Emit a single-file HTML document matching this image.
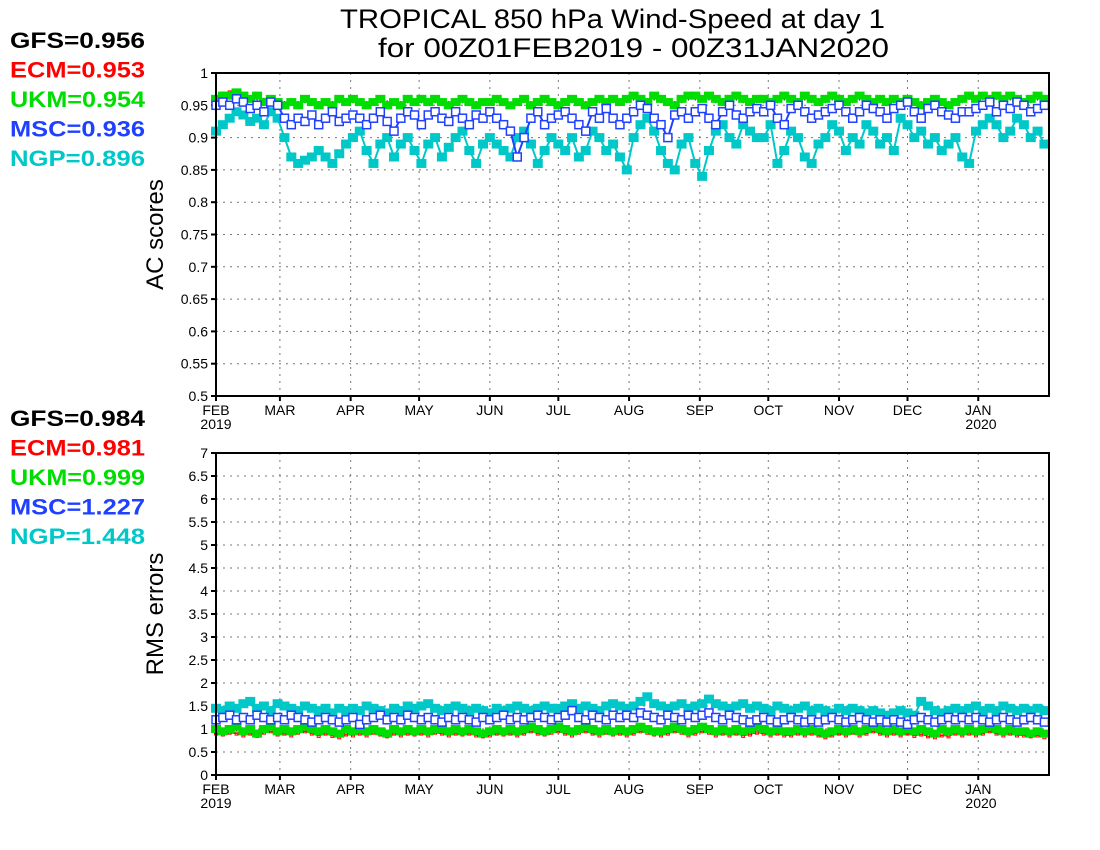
<!DOCTYPE html>
<html><head><meta charset="utf-8"><style>
body{margin:0;background:#fff;}
svg{display:block;font-family:"Liberation Sans",sans-serif;}
</style></head><body>
<svg id="c" width="1100" height="850"></svg>
<script>
const months=["FEB","MAR","APR","MAY","JUN","JUL","AUG","SEP","OCT","NOV","DEC","JAN"];
const monthDays=[0,28,59,89,120,150,181,212,242,273,303,334];
const acTicks=["0.5","0.55","0.6","0.65","0.7","0.75","0.8","0.85","0.9","0.95","1"];
const rmsTicks=["0","0.5","1","1.5","2","2.5","3","3.5","4","4.5","5","5.5","6","6.5","7"];
const acLegend=["GFS=0.956","ECM=0.953","UKM=0.954","MSC=0.936","NGP=0.896"];
const rmsLegend=["GFS=0.984","ECM=0.981","UKM=0.999","MSC=1.227","NGP=1.448"];
const acNGP=[.91,.92,.93,.94,.935,.925,.93,.92,.94,.93,.9,.87,.86,.865,.87,.88,.87,.86,.875,.89,.9,.91,.88,.86,.89,.9,.87,.89,.9,.88,.86,.89,.9,.87,.885,.9,.91,.88,.86,.89,.9,.89,.88,.87,.9,.91,.89,.86,.88,.9,.89,.88,.9,.87,.88,.91,.9,.88,.89,.87,.85,.9,.92,.93,.91,.88,.86,.85,.89,.9,.86,.84,.88,.91,.92,.9,.89,.92,.91,.9,.9,.92,.86,.88,.91,.9,.87,.86,.89,.9,.92,.91,.88,.9,.89,.92,.91,.89,.9,.88,.93,.92,.9,.91,.89,.9,.88,.89,.9,.87,.86,.91,.92,.93,.92,.9,.91,.93,.92,.9,.91,.89];
const acMSC=[.95,.955,.95,.96,.955,.945,.95,.94,.955,.95,.93,.92,.93,.925,.935,.92,.93,.94,.925,.93,.935,.93,.92,.93,.94,.925,.91,.93,.94,.935,.92,.935,.94,.93,.925,.94,.93,.92,.935,.93,.94,.93,.92,.91,.87,.9,.93,.94,.92,.93,.935,.94,.93,.92,.91,.94,.93,.945,.93,.92,.93,.94,.95,.945,.93,.92,.9,.935,.94,.93,.94,.945,.93,.92,.94,.95,.935,.93,.94,.945,.94,.95,.93,.92,.945,.95,.94,.93,.935,.94,.945,.95,.94,.93,.94,.95,.945,.94,.93,.945,.95,.955,.94,.93,.945,.95,.94,.935,.93,.94,.94,.945,.95,.955,.94,.95,.945,.955,.95,.94,.945,.95];
const acUKM=[.96,.965,.965,.97,.965,.96,.965,.955,.96,.955,.95,.955,.95,.96,.955,.95,.955,.95,.96,.955,.96,.955,.95,.955,.96,.95,.955,.95,.96,.955,.96,.955,.96,.955,.95,.955,.96,.955,.95,.955,.955,.96,.955,.95,.955,.96,.95,.955,.96,.955,.95,.955,.96,.955,.95,.955,.96,.955,.96,.955,.96,.965,.96,.955,.965,.96,.955,.95,.96,.965,.965,.96,.965,.96,.955,.96,.965,.96,.955,.96,.96,.955,.96,.965,.96,.955,.965,.96,.955,.96,.965,.96,.955,.96,.965,.96,.955,.96,.955,.96,.955,.96,.955,.95,.955,.96,.955,.95,.955,.96,.965,.96,.965,.96,.965,.96,.965,.96,.955,.96,.965,.96];
const acECM=[.962,.968,.97,.972,.966,.962,.964,.958,.96,.957,.952,.956,.951,.958,.957,.953,.955,.952,.958,.956,.958,.956,.952,.956,.959,.953,.955,.951,.958,.956,.959,.955,.958,.956,.952,.956,.958,.954,.951,.956,.956,.958,.955,.95,.954,.958,.951,.956,.958,.955,.952,.956,.958,.955,.952,.956,.958,.954,.958,.956,.959,.963,.96,.956,.963,.958,.955,.952,.959,.963,.963,.96,.963,.959,.956,.959,.963,.959,.956,.96,.959,.956,.96,.963,.959,.956,.963,.959,.956,.959,.963,.959,.956,.959,.963,.959,.956,.959,.956,.959,.956,.959,.955,.951,.955,.959,.955,.952,.956,.959,.966,.962,.966,.961,.964,.96,.963,.959,.956,.96,.963,.96];
const acGFS=[.96,.964,.966,.968,.964,.96,.962,.957,.959,.956,.952,.955,.952,.958,.956,.952,.954,.952,.958,.955,.958,.955,.952,.955,.958,.953,.954,.952,.958,.955,.958,.955,.958,.955,.952,.955,.958,.955,.952,.955,.955,.958,.955,.951,.954,.958,.952,.955,.958,.955,.952,.955,.958,.955,.952,.955,.958,.955,.958,.955,.958,.962,.96,.956,.962,.958,.955,.952,.958,.962,.962,.96,.962,.958,.956,.958,.962,.958,.956,.958,.958,.956,.958,.962,.958,.956,.962,.958,.956,.958,.962,.958,.956,.958,.962,.958,.956,.958,.956,.958,.956,.958,.955,.952,.955,.958,.955,.952,.955,.958,.963,.96,.963,.96,.963,.96,.962,.958,.956,.958,.962,.96];
const rmsNGP=[1.45,1.4,1.5,1.45,1.55,1.6,1.45,1.5,1.4,1.55,1.5,1.45,1.4,1.5,1.45,1.4,1.45,1.35,1.45,1.4,1.45,1.4,1.5,1.45,1.4,1.35,1.45,1.4,1.5,1.45,1.5,1.55,1.45,1.4,1.45,1.5,1.45,1.4,1.45,1.4,1.35,1.45,1.4,1.45,1.5,1.45,1.4,1.45,1.5,1.45,1.45,1.5,1.55,1.45,1.5,1.45,1.4,1.5,1.55,1.5,1.45,1.5,1.6,1.7,1.55,1.5,1.45,1.5,1.55,1.45,1.5,1.55,1.65,1.55,1.5,1.45,1.5,1.55,1.45,1.5,1.45,1.4,1.5,1.45,1.4,1.45,1.5,1.4,1.45,1.4,1.35,1.45,1.4,1.45,1.4,1.35,1.4,1.35,1.3,1.35,1.4,1.35,1.3,1.6,1.5,1.4,1.35,1.4,1.45,1.4,1.45,1.5,1.4,1.45,1.4,1.5,1.45,1.4,1.45,1.4,1.45,1.4];
const rmsMSC=[1.2,1.25,1.3,1.2,1.25,1.2,1.3,1.25,1.2,1.25,1.2,1.3,1.25,1.2,1.15,1.2,1.25,1.2,1.15,1.2,1.25,1.1,1.2,1.25,1.3,1.2,1.25,1.2,1.3,1.25,1.2,1.25,1.2,1.15,1.25,1.2,1.25,1.2,1.15,1.25,1.2,1.25,1.3,1.2,1.25,1.2,1.25,1.3,1.25,1.2,1.25,1.3,1.4,1.25,1.2,1.3,1.25,1.2,1.3,1.25,1.3,1.25,1.35,1.3,1.25,1.2,1.3,1.25,1.2,1.3,1.25,1.3,1.35,1.25,1.2,1.3,1.25,1.2,1.15,1.2,1.25,1.2,1.15,1.2,1.25,1.2,1.15,1.2,1.15,1.2,1.25,1.2,1.15,1.2,1.25,1.2,1.15,1.2,1.15,1.2,1.15,1.1,1.2,1.25,1.2,1.15,1.2,1.25,1.2,1.25,1.2,1.25,1.2,1.15,1.2,1.25,1.2,1.15,1.2,1.25,1.2,1.15];
const rmsUKM=[1.0,0.95,1.0,1.05,0.95,1.0,0.9,1.0,1.05,0.95,1.0,0.95,1.0,1.05,1.0,0.95,1.0,0.95,0.9,1.0,0.95,1.0,0.95,1.0,0.95,0.9,1.0,0.95,1.0,0.95,1.0,0.95,1.0,1.0,0.95,1.0,0.95,1.0,0.95,0.9,0.95,1.0,0.95,1.0,0.95,1.0,1.05,1.0,0.95,1.0,1.05,1.0,0.95,1.0,1.05,1.0,0.95,1.0,0.95,1.0,0.95,1.0,1.05,1.0,0.95,0.95,1.0,1.05,1.0,0.95,1.0,1.05,1.0,0.95,1.0,0.95,1.0,0.95,1.0,1.05,1.0,0.95,1.0,0.95,0.95,1.0,0.95,1.0,0.95,0.9,0.95,1.0,0.95,1.0,0.95,1.0,1.05,1.0,0.95,1.0,0.95,1.0,0.95,1.0,0.95,0.9,1.0,0.95,1.0,0.95,1.0,0.95,1.0,1.05,1.0,0.95,1.0,0.95,0.95,0.9,0.95,0.9];
const rmsECM=[0.9,0.88,0.92,0.9,0.86,0.9,0.85,0.92,0.95,0.88,0.9,0.86,0.92,0.95,0.9,0.85,0.9,0.85,0.82,0.88,0.86,0.9,0.86,0.92,0.88,0.84,0.9,0.86,0.9,0.88,0.9,0.86,0.92,0.9,0.86,0.9,0.88,0.9,0.86,0.84,0.86,0.9,0.88,0.9,0.86,0.9,0.95,0.9,0.88,0.92,0.95,0.9,0.86,0.92,0.95,0.9,0.86,0.92,0.88,0.9,0.86,0.9,0.95,0.92,0.88,0.86,0.9,0.95,0.92,0.86,0.9,0.95,0.92,0.86,0.9,0.86,0.9,0.85,0.88,0.92,0.9,0.86,0.9,0.86,0.86,0.9,0.86,0.9,0.86,0.82,0.86,0.9,0.86,0.92,0.86,0.9,0.95,0.9,0.86,0.9,0.86,0.9,0.85,0.88,0.84,0.82,0.86,0.84,0.9,0.86,0.9,0.86,0.9,0.95,0.9,0.86,0.9,0.86,0.86,0.84,0.86,0.82];
const rmsGFS=[0.98,0.96,1.0,1.02,0.95,0.98,0.92,0.99,1.03,0.95,0.98,0.95,0.99,1.02,0.98,0.94,0.98,0.94,0.91,0.98,0.95,0.99,0.95,0.99,0.95,0.91,0.98,0.95,0.99,0.95,0.99,0.95,0.99,0.98,0.95,0.99,0.95,0.99,0.95,0.91,0.95,0.99,0.95,0.99,0.95,0.99,1.03,0.99,0.95,0.99,1.03,0.99,0.95,0.99,1.03,0.99,0.95,0.99,0.95,0.99,0.95,0.99,1.03,0.99,0.95,0.95,0.99,1.03,0.99,0.95,0.99,1.03,0.99,0.95,0.99,0.95,0.99,0.95,0.99,1.03,0.99,0.95,0.99,0.95,0.95,0.99,0.95,0.99,0.95,0.91,0.95,0.99,0.95,0.99,0.95,0.99,1.03,0.99,0.95,0.99,0.95,0.99,0.95,0.99,0.95,0.91,0.99,0.95,0.99,0.95,0.99,0.95,0.99,1.03,0.99,0.95,0.99,0.95,0.95,0.91,0.95,0.91];
const colors=["#000000","#ff0000","#00dd00","#2040ff","#00c8c8"];

const NS="http://www.w3.org/2000/svg";
const svg=document.getElementById("c");
function mk(tag,attrs,parent){const e=document.createElementNS(NS,tag);for(const k in attrs)e.setAttribute(k,attrs[k]);(parent||svg).appendChild(e);return e;}
const X0=216,X1=1049,DAYS=365;
function xs(d){return X0+d*(X1-X0)/DAYS;}
function dayOf(i){return i*3;}

function t(x,y,s,size,anchor,fill,weight,name,len){const e=mk("text",{x:x,y:y,"font-size":size,"text-anchor":anchor||"start",fill:fill||"#000","font-weight":weight||"normal"});e.textContent=s;
if(len){e.setAttribute("textLength",len);e.setAttribute("lengthAdjust","spacingAndGlyphs");}


return e;}

t(340,28,"TROPICAL 850 hPa Wind-Speed at day 1",27,"start","#000","normal","chart-title",545);
t(378,57,"for 00Z01FEB2019 - 00Z31JAN2020",27,"start","#000","normal","chart-subtitle",511);

function panel(Y0,Y1,vmin,vmax,ticks,series,legend,legY,ytitle,name){
  const g=mk("g",{});
  
  
  const ys=v=>Y1-(v-vmin)/(vmax-vmin)*(Y1-Y0);
  ticks.forEach(s=>{const v=parseFloat(s);const y=ys(v);
    if(v>vmin&&v<vmax){const l=mk("line",{x1:X0,x2:X1,y1:y,y2:y,stroke:"#777","stroke-dasharray":"2,5"},g);
      
      }
    const tk=mk("line",{x1:X0-5,x2:X0,y1:y,y2:y,stroke:"#000","stroke-width":2},g);
    
    
    const tl=t(X0-8,y+5,s,14,"end","#000","normal","y-tick-label");g.appendChild(tl);});
  months.forEach((m,k)=>{const x=xs(monthDays[k]);
    if(k>0){const l=mk("line",{x1:x,x2:x,y1:Y0,y2:Y1,stroke:"#777","stroke-dasharray":"2,5"},g);
      
      }
    const tk=mk("line",{x1:x,x2:x,y1:Y1,y2:Y1+5,stroke:"#000","stroke-width":2},g);
    
    
    g.appendChild(t(x,Y1+19,m,14,"middle","#000","normal","x-tick-label"));});
  g.appendChild(t(216,Y1+33,"2019",14,"middle","#000","normal","year-label"));
  g.appendChild(t(981,Y1+33,"2020",14,"middle","#000","normal","year-label"));
  const ty=(Y0+Y1)/2;
  const yt=t(0,0,ytitle,24,"middle","#000","normal","y-axis-title");
  yt.setAttribute("transform","translate(163,"+ty+") rotate(-90)");g.appendChild(yt);
  legend.forEach((s,k)=>g.appendChild(t(10,legY+k*29.5,s,22,"start",colors[k],"bold","legend-entry",135)));
  const order=[0,1,2,4,3];
  order.forEach(si=>{const data=series[si];const c=colors[si];
    const sg=mk("g",{},g);
    
    
    const pts=data.map((v,i)=>xs(dayOf(i)).toFixed(1)+","+ys(v).toFixed(1)).join(" ");
    const pl=mk("polyline",{points:pts,fill:"none",stroke:c,"stroke-width":si<=1?1:2},sg);
    
    
    data.forEach((v,i)=>{const x=xs(dayOf(i)),y=ys(v);let m;
      if(si===0){m=mk("path",{d:`M${x-3},${y}h6M${x},${y-3}v6`,stroke:c,"stroke-width":1},sg);}
      else if(si===1){m=mk("rect",{x:x-1.5,y:y-1.5,width:3,height:3,fill:"none",stroke:c,"stroke-width":1},sg);}
      else if(si===2){m=mk("rect",{x:x-5,y:y-4,width:10,height:8,fill:c},sg);}
      else if(si===3){m=mk("rect",{x:x-4,y:y-4,width:8,height:8,fill:"#fff",stroke:c,"stroke-width":1.5},sg);}
      else {m=mk("rect",{x:x-5,y:y-4.5,width:10,height:9,fill:c},sg);}
      
      });
  });
  const fr=mk("rect",{x:X0,y:Y0,width:X1-X0,height:Y1-Y0,fill:"none",stroke:"#000","stroke-width":2},g);
  
  
}
panel(73,396,0.5,1,acTicks,[acGFS,acECM,acUKM,acMSC,acNGP],acLegend,48,"AC scores","ac-panel");
panel(453,775,0,7,rmsTicks,[rmsGFS,rmsECM,rmsUKM,rmsMSC,rmsNGP],rmsLegend,426,"RMS errors","rms-panel");
</script>
</body></html>
